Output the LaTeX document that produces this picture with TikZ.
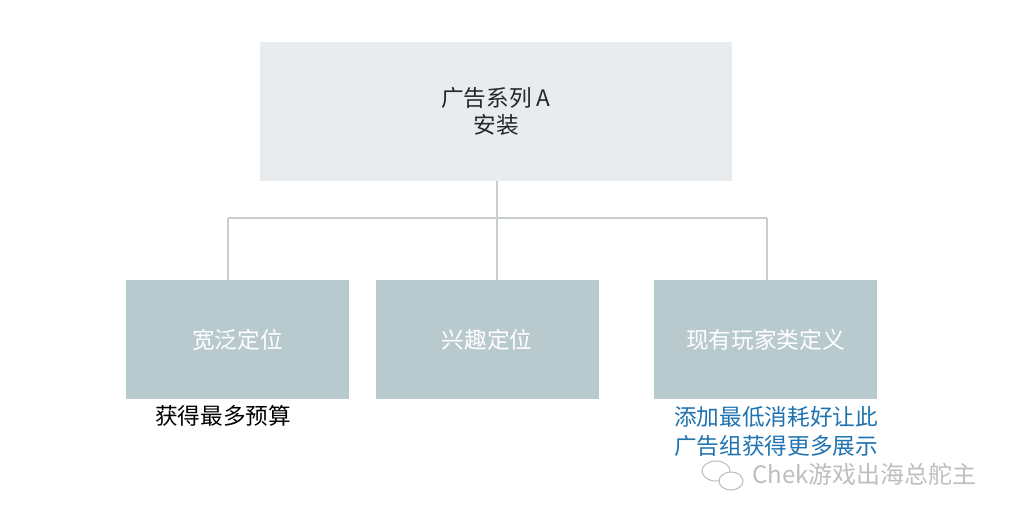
\documentclass[tikz,border=0pt]{standalone}
\usepackage{fontspec}
\setmainfont{Noto Sans CJK SC}
\usepackage{xcolor}
\usetikzlibrary{positioning}

\definecolor{topfill}{RGB}{233,236,239}
\definecolor{subfill}{RGB}{185,202,207}
\definecolor{linkgray}{RGB}{200,205,208}
\definecolor{noteblue}{RGB}{31,115,176}
\definecolor{markgray}{RGB}{190,190,190}

\begin{document}
\begin{tikzpicture}[x=0.75pt,y=0.75pt,yscale=-1,xscale=1,
  campaign/.style={fill=topfill,draw=none,minimum width=354pt,minimum height=104.25pt,inner sep=0pt,align=center,
    font=\fontsize{17}{20}\selectfont,text=black!85},
  adset/.style={fill=subfill,draw=none,minimum width=167.25pt,minimum height=89.25pt,inner sep=0pt,
    font=\fontsize{17}{20}\selectfont,text=white},
  link/.style={draw=linkgray,line width=0.8pt},
  note/.style={inner sep=0pt,font=\fontsize{17}{22}\selectfont,align=left}]

%uncomment if require: \path (0,519);
\path[use as bounding box] (0,0) rectangle (1017,519);

% Campaign box
\node[campaign] (camp) at (496,111.5) {广告系列 A\\安装};

% Ad set boxes
\node[adset] (broad) at (237.5,339.5) {宽泛定位};
\node[adset] (interest) at (487,339.5) {兴趣定位};
\node[adset] (player) at (765.5,339.5) {现有玩家类定义};

% Straight Lines
\coordinate (jmid) at (497,218);
\coordinate (jleft) at (228,218);
\coordinate (jright) at (767,218);
\draw[link] (camp.south -| jmid) -- (jmid);
\draw[link] (jleft) -- (jright);
\draw[link] (jleft) -- (jleft |- broad.north);
\draw[link] (jmid) -- (jmid |- interest.north);
\draw[link] (jright) -- (jright |- player.north);

% Text Node
\node[note,anchor=west] (budget) at (155,416) {获得最多预算};
% Text Node
\node[note,anchor=west,text=noteblue] (minspend) at (674,431.5) {添加最低消耗好让此\\广告组获得更多展示};

% Watermark
\draw[markgray,line width=0.8pt] (716,471) ellipse [x radius=14, y radius=10];
\draw[markgray,line width=0.8pt,fill=white] (731,481) ellipse [x radius=12, y radius=9];
\node[inner sep=0pt,anchor=west,text=markgray,font=\fontsize{18}{20}\selectfont] (mark) at (752,474) {Chek游戏出海总舵主};

\end{tikzpicture}
\end{document}
